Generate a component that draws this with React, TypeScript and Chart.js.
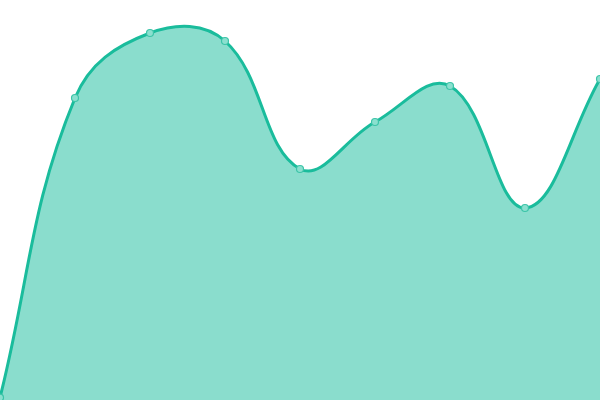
import React, { useEffect, useRef } from "react";
import { Chart, registerables } from "chart.js";

Chart.register(...registerables);

const labels = ["1", "2", "3", "4", "5", "6", "7", "8", "9"];
const values = [0.6, 75.5, 91.75, 89.75, 57.75, 69.5, 78.5, 48, 80.25];

export default function App() {
  const ref = useRef<HTMLCanvasElement>(null);
  useEffect(() => {
    if (!ref.current) return;
    const chart = new Chart(ref.current, {
      type: "line",
      data: {
        labels,
        datasets: [
          {
            data: values,
            borderColor: "#1abc9c",
            backgroundColor: "rgba(26,188,156,0.51)",
            fill: "origin",
            borderWidth: 3,
            tension: 0.4,
            pointRadius: 3.5,
            pointBorderWidth: 1.2,
            pointBackgroundColor: "#8be0cf",
            pointBorderColor: "#3cc4a8",
            clip: false,
          },
        ],
      },
      options: {
        animation: false,
        responsive: false,
        maintainAspectRatio: false,
        layout: { padding: 0, autoPadding: false },
        plugins: { legend: { display: false }, tooltip: { enabled: false } },
        scales: {
          x: { display: false, offset: false },
          y: { display: false, min: 0, max: 100 },
        },
      },
    });
    return () => chart.destroy();
  }, []);
  return (
    <div style={{ position: "fixed", top: 0, left: 0, width: 600, height: 400, background: "#fff" }}>
      <canvas ref={ref} width={600} height={400} style={{ display: "block", width: 600, height: 400 }} />
    </div>
  );
}
